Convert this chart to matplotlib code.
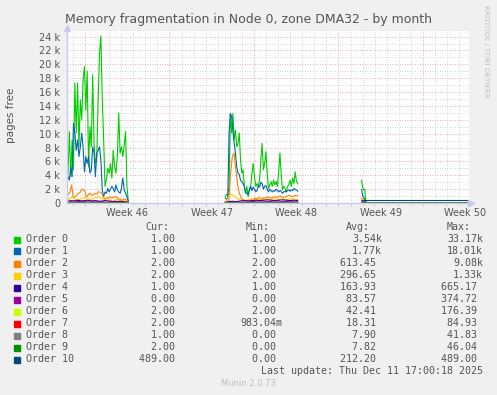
import matplotlib
matplotlib.use("Agg")
import matplotlib.pyplot as plt
import matplotlib.dates as mdates
import pandas as pd

W, H = 497, 395
BG = "#F0F0F0"
TXT = "#555555"
AXIS_COL = "#C8C8F0"

NAMES = [f"Order {i}" for i in range(11)]
COLORS = ["#00CC00", "#0066B3", "#FF8000", "#FFCC00", "#330099", "#990099",
          "#CCFF00", "#FF0000", "#808080", "#008F00", "#00487D"]

# legend values as munin prints them
CUR = ["1.00", "1.00", "2.00", "2.00", "1.00", "0.00", "2.00", "2.00", "1.00", "2.00", "489.00"]
MIN = ["1.00", "1.00", "2.00", "2.00", "1.00", "0.00", "2.00", "983.04m", "0.00", "0.00", "0.00"]
AVG = ["3.54k", "1.77k", "613.45", "296.65", "163.93", "83.57", "42.41", "18.31", "7.90", "7.82", "212.20"]
MAX = ["33.17k", "18.01k", "9.08k", "1.33k", "665.17", "374.72", "176.39", "84.93", "41.83", "46.04", "489.00"]

# time span of the graph and of the three data stretches
X_START, X_END = "2025-11-08 12:15", "2025-12-11 19:30"
SEG1 = ("2025-11-08 11:30", "2025-11-13 14:10")
SEG2 = ("2025-11-21 14:55", "2025-11-27 14:55")
SEG3 = ("2025-12-02 22:00", "2025-12-03 08:10")

# values in thousands of pages (None = no data there)
SEG1_VALS = [
    [3.0, 4.3, 10.3, 3.8, 9.1, 4.8, 17.3, 10.1, 17.3, 8.1, 14.9, 12.0, 17.7, 19.7, 13.4, 19.0,
     5.2, 11.0, 8.1, 18.5, 8.6, 5.7, 6.7, 14.9, 21.6, 24.1, 14.9, 9.3, 2.4, 3.3, 5.0, 4.3, 5.7,
     3.6, 7.6, 5.2, 4.3, 6.7, 13.0, 7.2, 8.1, 6.7, 8.4, 10.3, 2.4, 0.2],
    [2.8, 3.8, 3.3, 5.2, 3.8, 11.5, 10.1, 7.6, 9.1, 6.7, 8.1, 10.1, 8.1, 4.5, 6.7, 5.7, 6.7,
     4.3, 4.8, 8.1, 7.2, 3.8, 7.2, 7.6, 8.1, 6.2, 1.9, 0.9, 1.6, 1.4, 2.1, 1.6, 2.0, 2.4, 2.1,
     1.6, 2.6, 1.9, 1.6, 1.4, 2.1, 3.6, 1.9, 1.4, 0.9, 0.2],
    [1.15, 1.2, 1.6, 2.6, 0.7, 0.9, 1.15, 1.4, 1.5, 1.9, 2.0, 1.6, 0.9, 1.15, 1.4, 1.15, 1.15,
     1.4, 1.3, 1.6, 1.6, 1.4, 0.9, 0.5, 0.8, 0.7, 0.9, 0.7, 0.8, 0.9, 0.9, 0.5, 0.6, 0.4, 0.5,
     0.6, 0.4, 0.1],
    [0.3, 0.5, 0.7, 0.9, 0.6, 0.4, 0.5, 0.6, 0.7, 0.8, 0.7, 0.6, 0.5, 0.6, 0.7, 0.8, 0.9, 0.7,
     0.6, 0.5, 0.4, 0.5, 0.4, 0.3, 0.4, 0.5, 0.4, 0.3, 0.4, 0.3, 0.2, 0.1],
    [0.25, 0.3, 0.35, 0.3, 0.4, 0.35, 0.3, 0.35, 0.4, 0.35, 0.3, 0.35, 0.3, 0.25, 0.3, 0.35,
     0.3, 0.25, 0.2, 0.25, 0.2, 0.25, 0.2, 0.15, 0.1],
    [0.15, 0.2, 0.15, 0.2, 0.25, 0.2, 0.15, 0.2, 0.15, 0.2, 0.15, 0.1, 0.15, 0.1, 0.12, 0.1, 0.08, 0.05],
    [0.08, 0.1, 0.06, 0.08, 0.1, 0.07, 0.06, 0.05, 0.06, 0.04, 0.05, 0.03],
    [0.03, 0.04, 0.03, 0.02, 0.03, 0.02, 0.02, 0.01],
    [0.01, 0.015, 0.01, 0.008, 0.01, 0.005],
    [0.01, 0.012, 0.01, 0.008, 0.009, 0.005],
    None,
]
SEG2_VALS = [
    [0.9, 1.25, 1.15, 2.4, 12.9, 10.1, 12.9, 9.1, 10.5, 8.1, 8.6, 10.1, 6.2, 4.3, 4.8, 2.4, 1.4,
     2.4, 0.9, 2.1, 2.4, 4.3, 5.7, 3.8, 2.4, 2.8, 2.4, 3.3, 6.2, 8.6, 4.8, 5.7, 7.4, 4.3, 2.1,
     2.6, 3.1, 2.4, 3.3, 2.6, 3.1, 2.4, 4.3, 7.2, 4.3, 1.9, 2.4, 2.1, 1.6, 2.4, 2.6, 3.3, 2.4,
     3.6, 2.8, 4.5, 3.1, 2.8],
    [0.7, 0.55, 0.7, 10.1, 12.9, 12.5, 10.5, 8.6, 7.2, 5.2, 4.3, 4.1, 3.3, 3.1, 2.8, 2.4, 1.6,
     1.4, 1.2, 1.8, 2.4, 1.8, 2.3, 2.0, 1.6, 1.8, 2.5, 2.3, 3.0, 2.8, 2.0, 2.4, 2.5, 2.0, 1.6,
     2.0, 1.8, 1.6, 1.8, 1.7, 2.0, 1.8, 1.6, 1.8, 1.7, 1.4, 1.6, 1.7, 1.6, 1.8, 1.9, 1.7, 1.9,
     1.8, 2.1, 1.9, 1.9, 1.7],
    [0.1, 0.2, 0.3, 4.3, 6.7, 7.2, 4.8, 2.6, 1.4, 0.7, 0.5, 0.4, 0.3, 0.4, 0.5, 0.6, 0.5, 0.7,
     0.6, 0.8, 0.7, 0.6, 0.8, 0.7, 0.9, 0.8, 0.7, 0.8, 0.9, 0.8, 0.9, 1.0, 0.9, 0.8, 0.9, 1.0,
     1.1, 1.0, 0.9, 1.0, 1.1, 1.0],
    [0.3, 0.6, 1.3, 1.1, 0.8, 0.5, 0.4, 0.35, 0.4, 0.45, 0.5, 0.45, 0.5, 0.55, 0.5, 0.6, 0.55,
     0.5, 0.6, 0.55, 0.5, 0.6, 0.55, 0.5, 0.6, 0.55, 0.6, 0.5],
    [0.1, 0.2, 0.25, 0.2, 0.3, 0.35, 0.3, 0.35, 0.4, 0.35, 0.4, 0.45, 0.4, 0.35, 0.4, 0.45, 0.4, 0.35, 0.4, 0.35],
    [0.05, 0.1, 0.15, 0.12, 0.15, 0.2, 0.15, 0.18, 0.2, 0.15, 0.18, 0.2, 0.17, 0.15],
    [0.03, 0.05, 0.07, 0.06, 0.08, 0.07, 0.08, 0.06, 0.07, 0.06],
    [0.02, 0.03, 0.02, 0.03, 0.02, 0.02],
    [0.01, 0.01, 0.012, 0.01],
    [0.01, 0.012, 0.01, 0.01],
    None,
]
SEG3_VALS = [
    [3.3, 2.2, 1.9, 2.0, 0.4, 0.001],
    [1.9, 1.0, 0.9, 0.5, 0.1, 0.001],
    [0.7, 0.6, 0.6, 0.3, 0.05, 0.002],
    [0.5, 0.4, 0.4, 0.2, 0.02, 0.002],
    [0.3, 0.3, 0.3, 0.3, 0.01, 0.001],
    [0.1, 0.1, 0.1, 0.05, 0.01, 0.0],
    [0.05, 0.05, 0.04, 0.03, 0.01, 0.002],
    [0.02, 0.02, 0.02, 0.01, 0.005, 0.002],
    [0.01, 0.01, 0.01, 0.005, 0.002, 0.001],
    [0.01, 0.01, 0.01, 0.005, 0.002, 0.002],
    [0.489, 0.489, 0.489, 0.489, 0.489, 0.489],
]
# last values, held flat until the end of the graph
FLAT = [0.001, 0.001, 0.002, 0.002, 0.001, 0.0, 0.002, 0.002, 0.001, 0.002, 0.489]


def times(span, n):
    return pd.date_range(span[0], span[1], periods=n)


fig = plt.figure(figsize=(W / 100, H / 100), dpi=100, facecolor=BG)
ax = fig.add_axes([67 / W, 1 - 203 / H, 402 / W, 173.3 / H])
ax.set_facecolor("white")

for i in range(11):
    for span, vals in ((SEG1, SEG1_VALS[i]), (SEG2, SEG2_VALS[i])):
        if vals is None:
            continue
        ax.plot(times(span, len(vals)), [v * 1000 for v in vals],
                color=COLORS[i], lw=0.8, zorder=3)
    v3 = SEG3_VALS[i]
    t3 = list(times(SEG3, len(v3))) + [pd.Timestamp(X_END)]
    ax.plot(t3, [v * 1000 for v in v3] + [FLAT[i] * 1000],
            color=COLORS[i], lw=0.8, zorder=3)

ax.set_xlim(pd.Timestamp(X_START), pd.Timestamp(X_END))
ax.set_ylim(0, 25000)

# grid: days / weeks, 1k / 2k
ax.xaxis.set_major_locator(mdates.WeekdayLocator(byweekday=mdates.MO))
ax.xaxis.set_minor_locator(mdates.DayLocator())
ax.set_yticks(range(0, 25000, 2000))
ax.set_yticks(range(0, 25001, 1000), minor=True)
ax.grid(which="minor", color="#C8C8C8", ls=(0, (1, 2)), lw=0.6)
ax.grid(which="major", color="#E89090", ls=(0, (1, 2)), lw=0.6)
ax.set_axisbelow(True)
ax.xaxis.set_major_formatter(plt.NullFormatter())
ax.yaxis.set_major_formatter(plt.FuncFormatter(lambda v, p: "0" if v == 0 else f"{v / 1000:.0f} k"))
ax.tick_params(axis="y", which="both", length=0, labelsize=7, labelcolor=TXT, pad=5)
ax.tick_params(axis="x", which="both", length=2, color=AXIS_COL, labelsize=7)

for s in ("top", "right"):
    ax.spines[s].set_visible(False)
for s in ("left", "bottom"):
    ax.spines[s].set_color(AXIS_COL)
    ax.spines[s].set_linewidth(1.0)
    ax.spines[s].set_zorder(4)
ax.plot([1.005], [0], ">", transform=ax.transAxes, clip_on=False, color=AXIS_COL, ms=4, zorder=5)
ax.plot([0], [1.01], "^", transform=ax.transAxes, clip_on=False, color=AXIS_COL, ms=4, zorder=5)

# week labels centred in the week
for wk in mdates.WeekdayLocator(byweekday=mdates.MO).tick_values(
        pd.Timestamp(X_START), pd.Timestamp(X_END)):
    mid = mdates.num2date(wk) + pd.Timedelta(days=3.5)
    if mdates.date2num(mid) > mdates.date2num(pd.Timestamp(X_END)):
        continue
    ax.text(mid, -0.03, f"Week {mid.isocalendar()[1]}", transform=ax.get_xaxis_transform(),
            ha="center", va="top", fontsize=7, color=TXT)

fig.text(248.5 / W, 1 - 19 / H, "Memory fragmentation in Node 0, zone DMA32 - by month",
         ha="center", va="center", fontsize=9.0, color=TXT)
fig.text(11 / W, 1 - 115 / H, "pages free", rotation=90, ha="center", va="center",
         fontsize=7.5, color=TXT)
fig.text(486 / W, 1 - 5 / H, "RRDTOOL / TOBI OETIKER", rotation=270, ha="center", va="top",
         fontsize=5.2, color="#C0C0C0")

# legend table
mono = dict(family="DejaVu Sans Mono", fontsize=7.2, color=TXT)
row0, dy = 239.5, 12.0
for x, hdr in ((169, "Cur:"), (270, "Min:"), (370, "Avg:"), (471, "Max:")):
    fig.text(x / W, 1 - 227.5 / H, hdr, ha="right", va="center", **mono)


def cell(s):
    return s if s[-1].isalpha() else s + " "


for i in range(11):
    y = 1 - (row0 + i * dy) / H
    fig.patches.append(plt.Rectangle((14 / W, y - 3 / H), 6 / W, 6 / H,
                                     transform=fig.transFigure, color=COLORS[i]))
    fig.text(26 / W, y, NAMES[i], ha="left", va="center", **mono)
    for x, col in ((181, CUR), (282, MIN), (382, AVG), (483, MAX)):
        fig.text(x / W, y, cell(col[i]), ha="right", va="center", **mono)

fig.text(483 / W, 1 - 371.5 / H, "Last update: Thu Dec 11 17:00:18 2025",
         ha="right", va="center", **mono)
fig.text(248 / W, 1 - 384 / H, "Munin 2.0.73", ha="center", va="center",
         fontsize=6, color="#C0C0C0")

fig.savefig("out.png", dpi=100, facecolor=BG)
